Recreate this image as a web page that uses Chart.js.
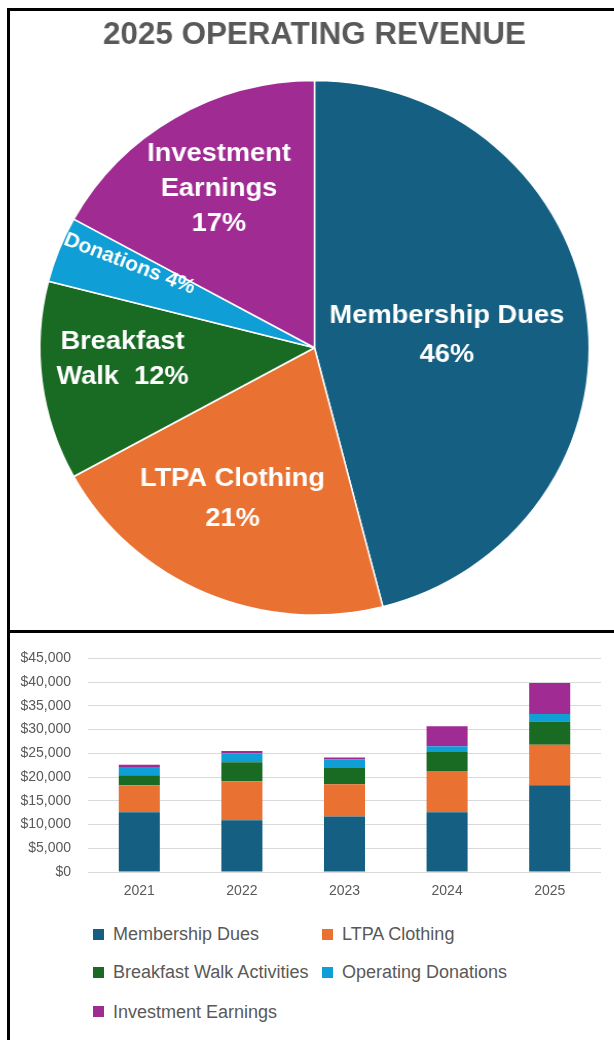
<!DOCTYPE html>
<html>
<head>
<meta charset="utf-8">
<script src="https://cdn.jsdelivr.net/npm/chart.js@4.4.1/dist/chart.umd.min.js"></script>
<style>
  html, body { margin: 0; padding: 0; background: #ffffff; }
  body { width: 614px; height: 1040px; position: relative; overflow: hidden; font-family: 'Liberation Sans', Arial, sans-serif; }
  #frame { position: absolute; left: 7px; top: 8px; width: 620px; height: 1040px; border-left: 3px solid #000; border-top: 3px solid #000; box-sizing: border-box; }
  #sep { position: absolute; left: 7px; top: 630px; width: 620px; height: 3px; background: #000; }
  #pie { position: absolute; left: 10px; top: 11px; width: 604px; height: 619px; transform: scaleX(1.028); transform-origin: 304.5px 336px; }
  #bar { position: absolute; left: 10px; top: 633px; width: 604px; height: 280px; }
  .lg { position: absolute; height: 24px; line-height: 24px; font-size: 18px; color: #595959; white-space: nowrap; }
  .lg i { position: absolute; left: 0; top: 6.5px; width: 11px; height: 11px; }
  .lg span { position: absolute; left: 20px; top: 0; }
</style>
</head>
<body>
<div id="frame"></div>
<div id="sep"></div>
<canvas id="pie" width="604" height="619"></canvas>
<canvas id="bar" width="604" height="280"></canvas>
<div id="legend"></div>
<script>
// ---- Pie data (2025) ----
const pieTitle = '2025 OPERATING REVENUE';
const pieLabels = ['Membership Dues', 'LTPA Clothing', 'Breakfast Walk', 'Donations', 'Investment Earnings'];
const pieValues = [46, 21, 12, 4, 17];
const pieLabelText = ['Membership Dues\n{p}', 'LTPA Clothing\n{p}', 'Breakfast\nWalk  {p}', 'Donations {p}', 'Investment\nEarnings\n{p}'];

// ---- Bar data ----
const years = ['2021', '2022', '2023', '2024', '2025'];
const seriesNames = ['Membership Dues', 'LTPA Clothing', 'Breakfast Walk Activities', 'Operating Donations', 'Investment Earnings'];
const membershipDues = [12600, 10900, 11700, 12600, 18300];
const ltpaClothing = [5700, 8200, 6800, 8700, 8500];
const breakfastWalk = [2100, 4000, 3400, 4000, 4900];
const operatingDonations = [1700, 1900, 1800, 1200, 1600];
const investmentEarnings = [500, 500, 400, 4200, 6500];
const yTickMax = 45000;
const yTickStep = 5000;

const colors = ['#156082', '#E97132', '#196B24', '#0F9ED5', '#A02B93'];

const pieLabelPlugin = {
  id: 'pieLabels',
  afterDatasetsDraw(chart, args, opts) {
    const ctx = chart.ctx;
    const meta = chart.getDatasetMeta(0);
    const data = chart.data.datasets[0].data;
    meta.data.forEach((arc, i) => {
      const p = arc.getProps(['x', 'y', 'startAngle', 'endAngle', 'outerRadius'], true);
      const midRaw = (p.startAngle + p.endAngle) / 2;
      const mid = midRaw + opts.angleShift[i] * Math.PI / 180;
      const r = p.outerRadius * opts.radius[i];
      const cx = p.x + Math.cos(mid) * r;
      const cy = p.y + Math.sin(mid) * r;
      const lines = opts.text[i].replace('{p}', data[i] + '%').split('\n');
      ctx.save();
      ctx.translate(cx, cy);
      if (opts.rotate[i]) ctx.rotate(midRaw + Math.PI);
      ctx.fillStyle = '#ffffff';
      ctx.font = 'bold ' + opts.size[i] + 'px "Liberation Sans", Arial, sans-serif';
      ctx.textAlign = 'center';
      ctx.textBaseline = 'middle';
      const lh = opts.lineHeight[i];
      lines.forEach((ln, k) => {
        ctx.fillText(ln, 0, (k - (lines.length - 1) / 2) * lh);
      });
      ctx.restore();
    });
  }
};

new Chart(document.getElementById('pie'), {
  type: 'pie',
  data: {
    labels: pieLabels,
    datasets: [{
      data: pieValues,
      backgroundColor: colors,
      borderColor: '#ffffff',
      borderWidth: 1.5,
      hoverOffset: 0
    }]
  },
  options: {
    responsive: false,
    devicePixelRatio: 1,
    animation: false,
    layout: { padding: { left: 35.75, right: 30.75, top: 0, bottom: 14.25 } },
    plugins: {
      legend: { display: false },
      tooltip: { enabled: false },
      title: {
        display: true,
        text: pieTitle,
        color: '#595959',
        font: { family: '"Liberation Sans", Arial, sans-serif', size: 30.5, weight: 'bold' },
        padding: { top: 6, bottom: 26.2 }
      },
      pieLabels: {
        text: pieLabelText,
        radius: [0.484, 0.638, 0.70, 0.743, 0.689],
        angleShift: [1.7, 4.5, 3.7, 3.4, 0.3],
        rotate: [false, false, false, true, false],
        size: [26.5, 26.5, 26.5, 20.5, 26.5],
        lineHeight: [39, 40, 35, 0, 35]
      }
    }
  },
  plugins: [pieLabelPlugin]
});

const barSeries = [membershipDues, ltpaClothing, breakfastWalk, operatingDonations, investmentEarnings];

new Chart(document.getElementById('bar'), {
  type: 'bar',
  data: {
    labels: years,
    datasets: barSeries.map((vals, i) => ({
      label: seriesNames[i],
      data: vals,
      backgroundColor: colors[i],
      borderWidth: 0,
      barPercentage: 0.4,
      categoryPercentage: 1
    }))
  },
  options: {
    responsive: false,
    devicePixelRatio: 1,
    animation: false,
    layout: { padding: { left: 0, right: 13, top: 13, bottom: 13 } },
    plugins: { legend: { display: false }, tooltip: { enabled: false } },
    scales: {
      x: {
        stacked: true,
        grid: { display: false, drawTicks: false },
        border: { display: false },
        ticks: { color: '#595959', font: { family: '"Liberation Sans", Arial, sans-serif', size: 14 }, padding: 11 },
        afterFit(scale) { scale.height = 28; }
      },
      y: {
        stacked: true,
        min: 0,
        max: yTickMax,
        ticks: {
          stepSize: yTickStep,
          color: '#595959',
          font: { family: '"Liberation Sans", Arial, sans-serif', size: 14 },
          padding: 17,
          callback: v => '$' + Number(v).toLocaleString('en-US')
        },
        grid: { color: '#d9d9d9', lineWidth: 1, drawTicks: false },
        border: { display: false },
        afterFit(scale) { scale.width = 78; }
      }
    }
  }
});

// ---- legend (HTML, laid out in two columns like the original) ----
const legendCols = [93, 322];
const legendRows = [934, 972, 1011.5];
const legend = document.getElementById('legend');
seriesNames.forEach((name, i) => {
  const d = document.createElement('div');
  d.className = 'lg';
  d.style.left = legendCols[i % 2] + 'px';
  d.style.top = (legendRows[Math.floor(i / 2)] - 12) + 'px';
  const b = document.createElement('i');
  b.style.background = colors[i];
  const s = document.createElement('span');
  s.textContent = name;
  d.appendChild(b); d.appendChild(s);
  legend.appendChild(d);
});
</script>
</body>
</html>
